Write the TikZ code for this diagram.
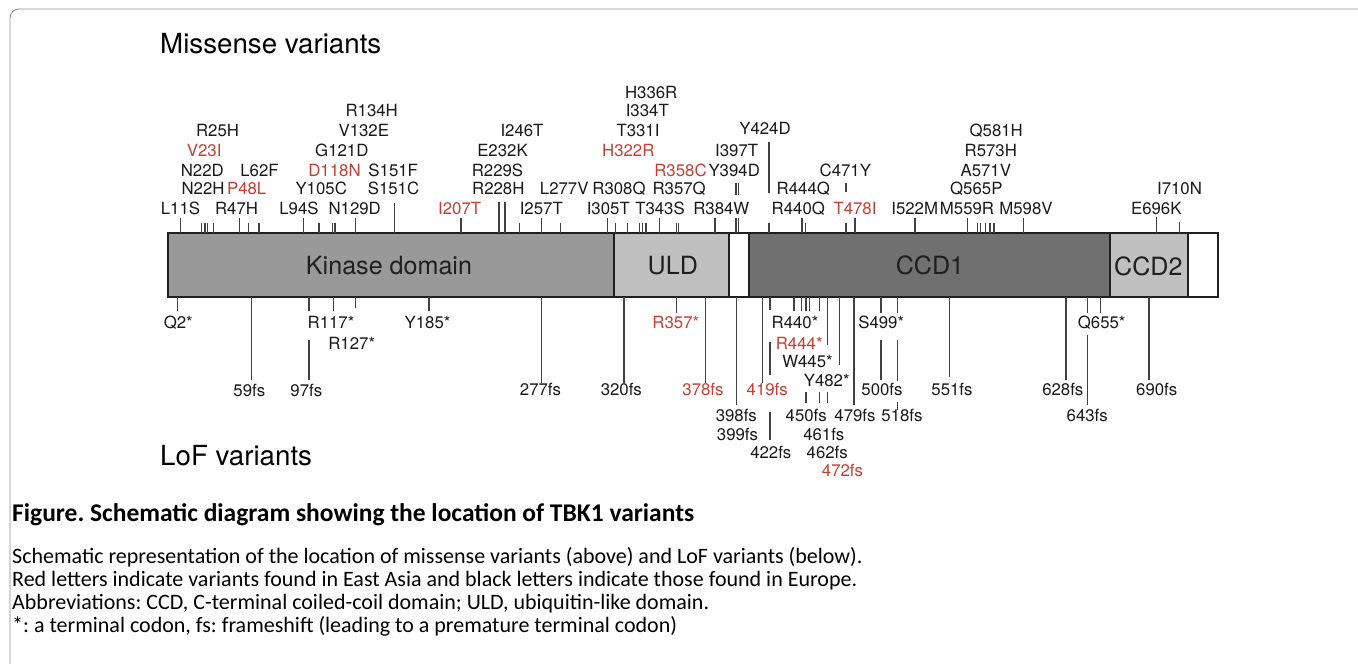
\documentclass[tikz,border=0pt]{standalone}
\usepackage{fontspec}
\setmainfont{TeX Gyre Heros}
\newfontfamily\capfont{Carlito}
\usetikzlibrary{positioning}
\definecolor{varred}{RGB}{198,62,52}
\definecolor{kinasegray}{RGB}{153,153,153}
\definecolor{uldgray}{RGB}{192,192,192}
\definecolor{ccdgray}{RGB}{112,112,112}
\definecolor{framegray}{RGB}{140,140,140}

\newcommand{\vtick}[3]{\draw[tickline] (#1,#2) -- (#1,#3);}

\begin{document}
\frenchspacing
\begin{tikzpicture}[x=1pt, y=-1pt,
  vlabel/.style={anchor=base, inner sep=0pt, font=\fontsize{16.8}{19}\selectfont, text=black!90},
  vred/.style={vlabel, text=varred},
  domainbox/.style={draw=black!88, line width=2.2pt},
  tickline/.style={draw=black!75, line width=1.1pt},
  dlabel/.style={anchor=base, inner sep=0pt, font=\fontsize{25.1}{28}\selectfont, text=black!88},
  heading/.style={anchor=base west, inner sep=0pt, font=\fontsize{27.7}{31}\selectfont},
  capline/.style={anchor=base west, inner sep=0pt, font=\capfont\fontsize{22}{26}\selectfont}]
\useasboundingbox (0,0) rectangle (1358,664);

% Frame
\begin{scope}
  \clip (0,0) rectangle (1358,664);
  \draw[framegray, line width=0.8pt, rounded corners=9pt] (10,690) -- (10,9) -- (1380,9);
\end{scope}

% Headings
\node[heading] (missense) at (160,53.3) {Missense variants};
\node[heading] (lof) at (160,465) {LoF variants};

% Domains
\filldraw[domainbox, fill=kinasegray] (168,233) rectangle (614,297);
\filldraw[domainbox, fill=uldgray] (614,233) rectangle (729,297);
\filldraw[domainbox, fill=white] (729,233) rectangle (749,297);
\filldraw[domainbox, fill=ccdgray] (749,233) rectangle (1110,297);
\filldraw[domainbox, fill=uldgray] (1110,233) rectangle (1188,297);
\filldraw[domainbox, fill=white] (1188,233) rectangle (1218,297);
\node[dlabel] (kinase) at (389,274.3) {Kinase domain};
\node[dlabel] (uld) at (672.8,274.5) {ULD};
\node[dlabel] (ccd1) at (930,274.5) {CCD1};
\node[dlabel] (ccd2) at (1148.3,275) {CCD2};

% Missense ticks
\foreach \x in {180.7,239.3,303.3,355.7,461,541.7,607.7,659.3,715,736,738.3,802,855,915,967.3,1023.3}
  {\vtick{\x}{218}{233}}
\foreach \x in {201.7,205,207.7,213.3,248.3,259,319,332.7,335,519.3,560.7,615.7,627.3,639.3,642.3,646,676.7,678.3,769,805.7,846,977.3,980.7,985.7,990,994}
  {\vtick{\x}{223}{233}}
\vtick{394.3}{203}{233}
\vtick{499}{201.7}{233}
\vtick{505}{201.7}{233}
\vtick{736}{183}{195}
\vtick{738.3}{183}{195}
\vtick{769}{141.7}{193.3}
\vtick{846}{183}{192}
\vtick{1156.7}{216.7}{233}
\vtick{1179.3}{221.7}{233}

% LoF ticks
\foreach \x in {177.3,309,333.3,429,794,801.7,806,809.3,819.3}
  {\vtick{\x}{297}{311}}
\foreach \x in {676.7,881,897.3,1087.3,1100.7}
  {\vtick{\x}{297}{313}}
\vtick{355.7}{297}{308.3}
\vtick{770}{297}{310}
\foreach \x/\y in {251.7/380,541.7/383,624/383,705.7/383,736.7/405,762.7/383,827.3/345,839.3/365,854/405,949.3/377,1066/380,1149/380}
  {\vtick{\x}{297}{\y}}
\vtick{309}{340}{380}
\vtick{770}{341.7}{375}
\vtick{770}{411.7}{440}
\foreach \x in {806,819.3,827.3}
  {\vtick{\x}{391.7}{403}}
\vtick{881}{340}{380}
\vtick{897.3}{340}{381}
\vtick{897.3}{401.7}{410}
\vtick{1087.3}{335}{405}

% Missense variants, row by row from the bar upwards
\node[vlabel] (l11s) at (180.5,214) {L11S};
\node[vlabel] (r47h) at (236.5,214) {R47H};
\node[vlabel] (l94s) at (299,214) {L94S};
\node[vlabel] (n129d) at (354.7,214) {N129D};
\node[vred] (i207t) at (459.7,214) {I207T};
\node[vlabel] (i257t) at (541.3,214) {I257T};
\node[vlabel] (i305t) at (608.3,214) {I305T};
\node[vlabel] (t343s) at (660,214) {T343S};
\node[vlabel] (r384w) at (721.3,214) {R384W};
\node[vlabel] (r440q) at (798.3,214) {R440Q};
\node[vred] (t478i) at (855,214) {T478I};
\node[vlabel] (i522m) at (914.7,214) {I522M};
\node[vlabel] (m559r) at (967,214) {M559R};
\node[vlabel] (m598v) at (1026,214) {M598V};
\node[vlabel] (e696k) at (1156.3,214) {E696K};

\node[vlabel] (n22h) at (203,194.5) {N22H};
\node[vred] (p48l) at (246.7,194.5) {P48L};
\node[vlabel] (y105c) at (321.2,194.5) {Y105C};
\node[vlabel] (s151c) at (393.5,194.5) {S151C};
\node[vlabel] (r228h) at (498.3,194.5) {R228H};
\node[vlabel] (l277v) at (564.2,194.5) {L277V};
\node[vlabel] (r308q) at (619,194.5) {R308Q};
\node[vlabel] (r357q) at (679.2,194.5) {R357Q};
\node[vlabel] (r444q) at (803.3,194.5) {R444Q};
\node[vlabel] (q565p) at (976.3,194.5) {Q565P};
\node[vlabel] (i710n) at (1179.5,194.5) {I710N};

\node[vlabel] (n22d) at (202.3,176.5) {N22D};
\node[vlabel] (l62f) at (259.5,176.5) {L62F};
\node[vred] (d118n) at (334.5,176.5) {D118N};
\node[vlabel] (s151f) at (393.2,176.5) {S151F};
\node[vlabel] (r229s) at (497.5,176.5) {R229S};
\node[vred] (r358c) at (680.5,176.5) {R358C};
\node[vlabel] (y394d) at (734.2,176.5) {Y394D};
\node[vlabel] (c471y) at (845.3,176.5) {C471Y};
\node[vlabel] (a571v) at (985.8,176.5) {A571V};

\node[vred] (v23i) at (204.2,156) {V23I};
\node[vlabel] (g121d) at (341.8,156) {G121D};
\node[vlabel] (e232k) at (502.5,156) {E232K};
\node[vred] (h322r) at (628.3,156) {H322R};
\node[vlabel] (i397t) at (736.7,156) {I397T};
\node[vlabel] (r573h) at (990.8,156) {R573H};

\node[vlabel] (r25h) at (217.5,136) {R25H};
\node[vlabel] (v132e) at (363.8,136) {V132E};
\node[vlabel] (i246t) at (522,136) {I246T};
\node[vlabel] (t331i) at (638,136) {T331I};
\node[vlabel] (y424d) at (765,134) {Y424D};
\node[vlabel] (q581h) at (996.2,136) {Q581H};

\node[vlabel] (r134h) at (371.7,116.5) {R134H};
\node[vlabel] (i334t) at (647.3,116.5) {I334T};
\node[vlabel] (h336r) at (651.2,98) {H336R};

% LoF variants, row by row from the bar downwards
\node[vlabel] (q2) at (178.3,328) {Q2*};
\node[vlabel] (r117) at (331,328) {R117*};
\node[vlabel] (y185) at (427.5,328) {Y185*};
\node[vred] (r357) at (675.8,328) {R357*};
\node[vlabel] (r440) at (795,328) {R440*};
\node[vlabel] (s499) at (881.2,328) {S499*};
\node[vlabel] (q655) at (1101.7,328) {Q655*};

\node[vlabel] (r127) at (351.7,349) {R127*};
\node[vred] (r444) at (799.2,349) {R444*};
\node[vlabel] (w445) at (807.5,367.3) {W445*};
\node[vlabel] (y482) at (826.7,386.7) {Y482*};

\node[vlabel] (fs59) at (249.3,396) {59fs};
\node[vlabel] (fs97) at (306.3,396) {97fs};
\node[vlabel] (fs277) at (540.5,395.5) {277fs};
\node[vlabel] (fs320) at (621.3,395.5) {320fs};
\node[vred] (fs378) at (703,395.5) {378fs};
\node[vred] (fs419) at (767.2,395.5) {419fs};
\node[vlabel] (fs500) at (882,395.5) {500fs};
\node[vlabel] (fs551) at (952,395.5) {551fs};
\node[vlabel] (fs628) at (1062.8,395.5) {628fs};
\node[vlabel] (fs690) at (1156.7,395.5) {690fs};

\node[vlabel] (fs398) at (736.3,421.7) {398fs};
\node[vlabel] (fs450) at (806.2,421.7) {450fs};
\node[vlabel] (fs479) at (855,421.7) {479fs};
\node[vlabel] (fs518) at (902,421.7) {518fs};
\node[vlabel] (fs643) at (1087.2,421.7) {643fs};

\node[vlabel] (fs399) at (737.5,440.5) {399fs};
\node[vlabel] (fs461) at (823.8,440.5) {461fs};
\node[vlabel] (fs422) at (770.8,458) {422fs};
\node[vlabel] (fs462) at (827.2,458) {462fs};
\node[vred] (fs472) at (842.5,476.7) {472fs};

% Caption
\node[capline, font=\capfont\bfseries\fontsize{25.5}{30}\selectfont] (title) at (12,521.7) {Figure. Schematic diagram showing the location of TBK1 variants};
\node[capline] (cap1) at (12,563) {Schematic representation of the location of missense variants (above) and LoF variants (below).};
\node[capline] (cap2) at (12,586.3) {Red letters indicate variants found in East Asia and black letters indicate those found in Europe.};
\node[capline] (cap3) at (12,609.5) {Abbreviations: CCD, C-terminal coiled-coil domain; ULD, ubiquitin-like domain.};
\node[capline] (cap4) at (12,632.5) {*: a terminal codon, fs: frameshift (leading to a premature terminal codon)};
\end{tikzpicture}
\end{document}
